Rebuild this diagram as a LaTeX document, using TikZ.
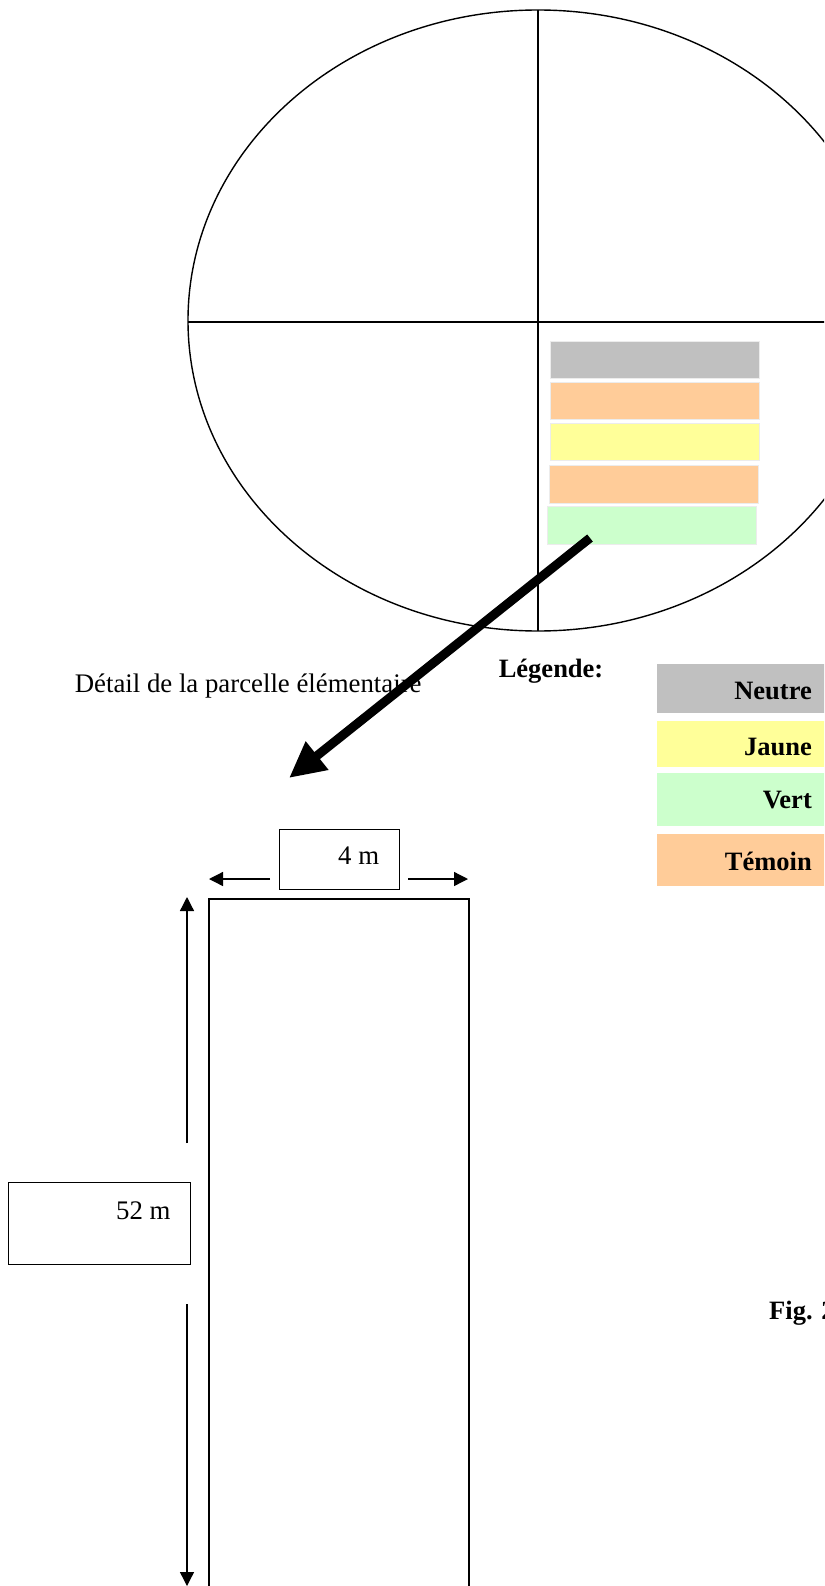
\documentclass[tikz,border=0pt]{standalone}
\usepackage{fontspec}
\setmainfont{Liberation Serif}
\usetikzlibrary{arrows.meta}
\definecolor{neutre}{HTML}{C0C0C0}
\definecolor{temoin}{HTML}{FFCC99}
\definecolor{jaune}{HTML}{FFFF99}
\definecolor{vert}{HTML}{CCFFCC}
\begin{document}
\begin{tikzpicture}[x=1pt,y=-1pt,
  txt/.style={font=\fontsize{26.8}{30}\selectfont, inner sep=0pt},
  btxt/.style={font=\fontsize{26.5}{30}\selectfont\bfseries, inner sep=0pt},
  bar/.style={draw=white!85!gray, line width=0.8pt, inner sep=0pt, anchor=north west, minimum width=209pt, minimum height=37pt},
  legbox/.style={inner sep=0pt, anchor=north west, minimum width=170pt},
  ln/.style={line width=1.4pt},
  box/.style={draw, line width=1.4pt, inner sep=0pt, anchor=north west},
  dim/.style={line width=1.3pt, -{Triangle[length=14pt,width=14pt]}},
  bigarrow/.style={line width=9pt, -{Triangle[length=36pt,width=34pt]}}
]
\useasboundingbox (0,0) rectangle (824,1586);
\clip (0,0) rectangle (824,1586);
% field
\draw[ln] (538,320.5) ellipse [x radius=350, y radius=310.5];
\draw[ln] (538,10) -- (538,631);
\draw[ln] (188,322) -- (830,322);
% plots
\node[bar, fill=neutre] (p1) at (550,341) {};
\node[bar, fill=temoin] (p2) at (550,382) {};
\node[bar, fill=jaune]  (p3) at (550,423) {};
\node[bar, fill=temoin, minimum height=38pt] (p4) at (549,465) {};
\node[bar, fill=vert, minimum height=38pt]   (p5) at (547,506) {};
% texts
\node[txt, anchor=base west] (detail) at (74.6,692) {Détail de la parcelle élémentaire};
\node[btxt, anchor=base west] (legende) at (498.6,677) {Légende:};
% legend
\node[legbox, fill=neutre, minimum height=49pt] (lneutre) at (657,664) {};
\node[legbox, fill=jaune, minimum height=46pt] (ljaune) at (657,721) {};
\node[legbox, fill=vert, minimum height=53pt] (lvert) at (657,773) {};
\node[legbox, fill=temoin, minimum height=52pt] (ltemoin) at (657,834) {};
\node[btxt, anchor=base east] at (812,699) {Neutre};
\node[btxt, anchor=base east] at (812,755) {Jaune};
\node[btxt, anchor=base east] at (812,808) {Vert};
\node[btxt, anchor=base east] at (812,870) {Témoin};
% big arrow
\coordinate (astart) at (590,538);
\coordinate (aend) at (289,778);
\draw[bigarrow] (astart) -- (aend);
% detail plot
\node[box, minimum width=120pt, minimum height=60pt] (box4) at (279,829) {};
\node[txt, anchor=base west] at (338,864) {4 m};
\coordinate (w1) at (270,879); \coordinate (w2) at (209,879);
\coordinate (e1) at (408,879); \coordinate (e2) at (468,879);
\draw[dim] (w1) -- (w2);
\draw[dim] (e1) -- (e2);
\draw[ln] (209,1600) -- (209,899) -- (469,899) -- (469,1600);
\node[box, minimum width=182pt, minimum height=82pt] (box52) at (8,1182) {};
\node[txt, anchor=base west] at (116,1219) {52 m};
\coordinate (u1) at (187,1143); \coordinate (u2) at (187,897);
\coordinate (d1) at (187,1304); \coordinate (d2) at (187,1586);
\draw[dim] (u1) -- (u2);
\draw[dim] (d1) -- (d2);
\node[btxt, anchor=base west] at (769,1319) {Fig. 2};
\end{tikzpicture}
\end{document}
